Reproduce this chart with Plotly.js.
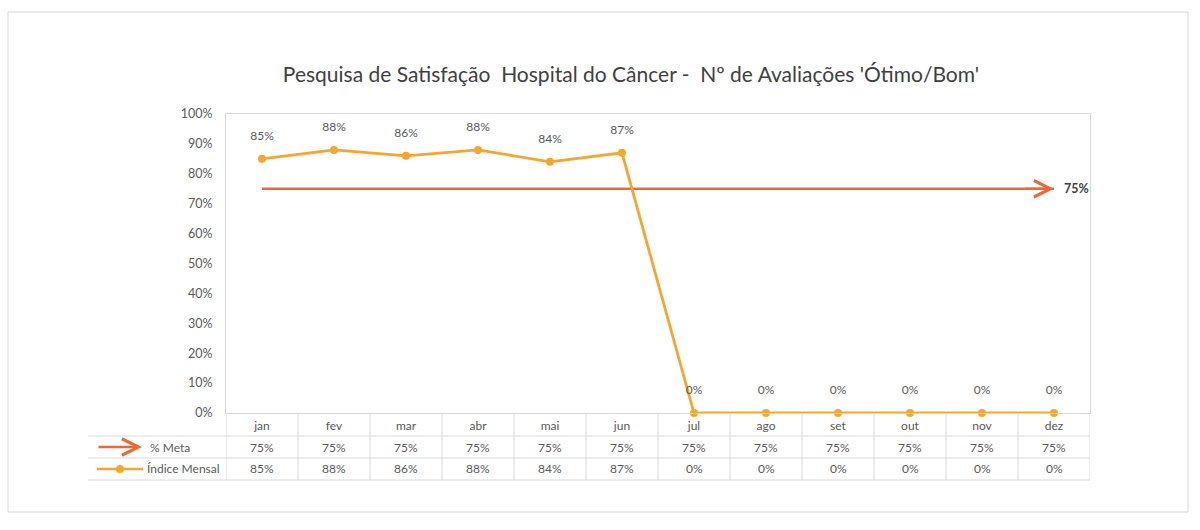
<!DOCTYPE html>
<html>
<head>
<meta charset="utf-8">
<script src="https://cdn.plot.ly/plotly-3.0.1.min.js"></script>
<style>html,body{margin:0;padding:0;background:#fff;}#chart{width:1200px;height:530px;}</style>
</head>
<body>
<div id="chart"></div>
<script>
const months = ['jan','fev','mar','abr','mai','jun','jul','ago','set','out','nov','dez'];
const meta = [0.75,0.75,0.75,0.75,0.75,0.75,0.75,0.75,0.75,0.75,0.75,0.75];
const indice = [0.85,0.88,0.86,0.88,0.84,0.87,0,0,0,0,0,0];
const metaName = '% Meta';
const indiceName = 'Índice Mensal';
const titleText = "Pesquisa de Satisfação  Hospital do Câncer -  Nº de Avaliações 'Ótimo/Bom'";

const FONT = 'Lato, "Open Sans", sans-serif';
const TXT = '#595959';
const META_C = '#EE6A35';
const IND_C = '#F6A52F';
const GRID = '#D9D9D9';

// plot area pixels
const L = 226, R = 1090, T = 114, B = 413;
const W = R - L, H = B - T;
const px = x => (x - L) / W;
const py = y => (B - y) / H;
const pct = v => Math.round(v * 100) + '%';

const rowMeta = 447, rowInd = 469;
const FS = 12;

const traces = [
  {
    x: months, y: meta, name: metaName, type: 'scatter', mode: 'lines',
    line: {color: META_C, width: 2.5},
    cliponaxis: false, hoverinfo: 'skip'
  },
  {
    x: months, y: indice, name: indiceName, type: 'scatter', mode: 'lines+markers',
    line: {color: IND_C, width: 2.8},
    marker: {color: IND_C, size: 8},
    cliponaxis: false, hoverinfo: 'skip'
  },
  {
    // data labels of the monthly index (invisible large markers give label offset)
    x: months, y: indice, type: 'scatter', mode: 'markers+text', showlegend: false,
    marker: {size: 24, color: 'rgba(0,0,0,0)'},
    text: indice.map(pct), textposition: 'top center',
    textfont: {family: FONT, size: FS, color: TXT},
    cliponaxis: false, hoverinfo: 'skip'
  }
];

const annotations = [];
const shapes = [];

// Table rows from the data
months.forEach((m, i) => {
  annotations.push({x: m, xref: 'x', y: py(rowMeta), yref: 'paper', text: pct(meta[i]),
    showarrow: false, font: {family: FONT, size: FS, color: TXT}, xanchor: 'center', yanchor: 'middle'});
  annotations.push({x: m, xref: 'x', y: py(rowInd), yref: 'paper', text: pct(indice[i]),
    showarrow: false, font: {family: FONT, size: FS, color: TXT}, xanchor: 'center', yanchor: 'middle'});
});

const lastM = months[months.length - 1], lastV = meta[meta.length - 1];
// arrow head at end of meta line
annotations.push({x: lastM, xref: 'x', y: lastV, yref: 'y',
  ax: -30, ay: 0, text: '', showarrow: true, arrowhead: 5, arrowsize: 1.3,
  arrowwidth: 2.5, arrowcolor: META_C, standoff: 0});
// bold label of the goal
annotations.push({x: lastM, xref: 'x', y: lastV, yref: 'y', xshift: 8, xanchor: 'left', yanchor: 'middle',
  text: '<b>' + pct(lastV) + '</b>', showarrow: false, font: {family: FONT, size: 12.5, color: '#404040'}});

// legend keys in table
annotations.push({x: px(142), xref: 'paper', y: py(rowMeta), yref: 'paper', ax: -45, ay: 0,
  text: '', showarrow: true, arrowhead: 5, arrowsize: 1.3, arrowwidth: 2.5, arrowcolor: META_C});
annotations.push({x: px(148), xref: 'paper', y: py(rowMeta), yref: 'paper', text: metaName,
  showarrow: false, xanchor: 'left', yanchor: 'middle', font: {family: FONT, size: FS, color: TXT}});
annotations.push({x: px(145), xref: 'paper', y: py(rowInd), yref: 'paper', text: indiceName,
  showarrow: false, xanchor: 'left', yanchor: 'middle', font: {family: FONT, size: FS, color: TXT}});
shapes.push({type: 'line', xref: 'paper', yref: 'paper', x0: px(97), x1: px(143), y0: py(rowInd), y1: py(rowInd),
  line: {color: IND_C, width: 2.5}});
shapes.push({type: 'circle', xref: 'paper', yref: 'paper', x0: px(116), x1: px(124), y0: py(rowInd - 4), y1: py(rowInd + 4),
  fillcolor: IND_C, line: {color: IND_C, width: 0}});

// table grid lines
[436, 458, 480].forEach(yy => {
  shapes.push({type: 'line', xref: 'paper', yref: 'paper', x0: px(88), x1: 1, y0: py(yy), y1: py(yy),
    line: {color: GRID, width: 1}});
});
for (let i = 0; i <= months.length; i++) {
  shapes.push({type: 'line', xref: 'x', yref: 'paper', x0: i - 0.5, x1: i - 0.5, y0: 0, y1: py(480),
    line: {color: GRID, width: 1}});
}

// outer chart frame
shapes.push({type: 'rect', xref: 'paper', yref: 'paper', x0: px(8), x1: px(1188), y0: py(12), y1: py(512),
  line: {color: '#D6D6D6', width: 1}, fillcolor: 'rgba(0,0,0,0)', layer: 'below'});

const layout = {
  width: 1200, height: 530,
  margin: {l: L, r: 1200 - R, t: T, b: 530 - B, pad: 0},
  paper_bgcolor: '#ffffff', plot_bgcolor: '#ffffff',
  showlegend: false,
  title: {text: titleText, font: {family: FONT, size: 21, color: '#404040'},
    x: px(631), xref: 'paper', xanchor: 'center', y: 1 - 75 / 530, yref: 'container', yanchor: 'middle'},
  xaxis: {type: 'category', range: [-0.5, 11.5], showgrid: false, zeroline: false,
    showline: true, linecolor: GRID, linewidth: 1, mirror: true, ticks: '',
    tickfont: {family: FONT, size: FS, color: TXT}, ticklabelstandoff: 2, fixedrange: true},
  yaxis: {range: [0, 1], dtick: 0.1, tickformat: '.0%', showgrid: false, zeroline: false,
    showline: true, linecolor: GRID, linewidth: 1, mirror: true, ticks: '',
    tickfont: {family: FONT, size: 12.5, color: TXT}, ticklabelstandoff: 10, fixedrange: true},
  annotations: annotations,
  shapes: shapes
};

Plotly.newPlot('chart', traces, layout, {displayModeBar: false, staticPlot: true});
</script>
</body>
</html>
